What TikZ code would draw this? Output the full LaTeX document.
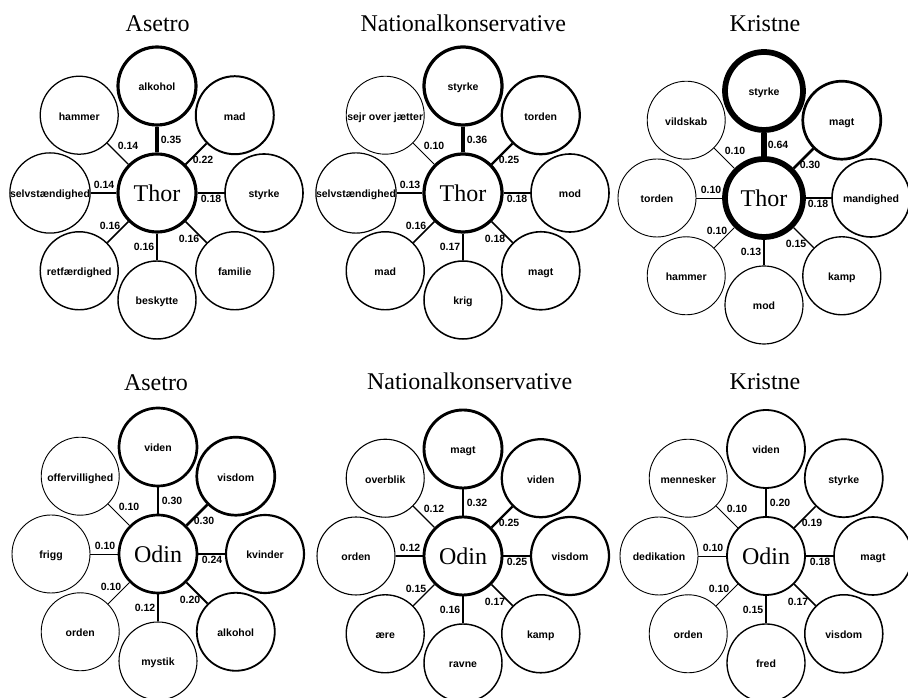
\documentclass[tikz,border=0pt]{standalone}
\usepackage{fontspec}
\setmainfont{Liberation Serif}
\newfontfamily\labfont{Liberation Sans}
\usetikzlibrary{calc}
\tikzset{
  hub/.style={circle, draw, minimum size=78pt, inner sep=0pt, font=\fontsize{24}{26}\selectfont},
  leaf/.style={circle, draw, minimum size=78pt, inner sep=0pt, text height=10pt, text depth=0pt,
               font=\labfont\bfseries\fontsize{10.5}{12}\selectfont},
  elab/.style={inner sep=0pt, font=\labfont\bfseries\fontsize{10.5}{12}\selectfont},
  ptitle/.style={anchor=base, inner sep=0pt, font=\fontsize{24}{26}\selectfont},
}
\newcommand{\mypanel}[6]{%
  \node[hub, line width=#5pt] (#1c) at (#2,#3) {#4};
  \foreach \lab/\w [count=\i] in {#6} {
    \pgfmathsetmacro{\ang}{90-45*(\i-1)}
    \pgfmathsetmacro{\dist}{isodd(\i) ? 107 : 110}
    \pgfmathsetmacro{\lw}{max(\w*9,0.8)}
    \pgfmathsetmacro{\dx}{{14,46,54,32,-13,-47,-53,-29}[\i-1]}
    \pgfmathsetmacro{\dy}{{53,33,-6,-46,-54,-33,8,47}[\i-1]}
    \node[leaf, line width=\lw pt] (#1n\i) at ($(#1c)+(\ang:\dist)$) {\lab};
    \draw[line width=\lw pt] (#1c) -- (#1n\i);
    \node[elab] (#1l\i) at ($(#1c)+(\dx,\dy)$) {\w};
  }
}
\begin{document}
\begin{tikzpicture}[x=1pt,y=1pt]
\useasboundingbox (0,0) rectangle (908,698);
\node[ptitle] (t1) at (157.7,666) {Asetro};
\node[ptitle] (t2) at (463.3,666) {Nationalkonservative};
\node[ptitle] (t3) at (765,666) {Kristne};
\node[ptitle] (t4) at (156,307.5) {Asetro};
\node[ptitle] (t5) at (469.7,308) {Nationalkonservative};
\node[ptitle] (t6) at (765,308) {Kristne};

\mypanel{a}{157}{505}{Thor}{3.15}{alkohol/0.35, mad/0.22, styrke/0.18, familie/0.16, beskytte/0.16, retfærdighed/0.16, selvstændighed/0.14, hammer/0.14}
\mypanel{b}{463}{505}{Thor}{3.24}{styrke/0.36, torden/0.25, mod/0.18, magt/0.18, krig/0.17, mad/0.16, selvstændighed/0.13, sejr over jætter/0.10}
\mypanel{c}{764}{500}{Thor}{5.76}{styrke/0.64, magt/0.30, mandighed/0.18, kamp/0.15, mod/0.13, hammer/0.10, torden/0.10, vildskab/0.10}
\mypanel{d}{158}{144}{Odin}{2.7}{viden/0.30, visdom/0.30, kvinder/0.24, alkohol/0.20, mystik/0.12, orden/0.10, frigg/0.10, offervillighed/0.10}
\mypanel{e}{463}{142}{Odin}{2.88}{magt/0.32, viden/0.25, visdom/0.25, kamp/0.17, ravne/0.16, ære/0.15, orden/0.12, overblik/0.12}
\mypanel{f}{766}{142}{Odin}{1.8}{viden/0.20, styrke/0.19, magt/0.18, visdom/0.17, fred/0.15, orden/0.10, dedikation/0.10, mennesker/0.10}
\end{tikzpicture}
\end{document}
